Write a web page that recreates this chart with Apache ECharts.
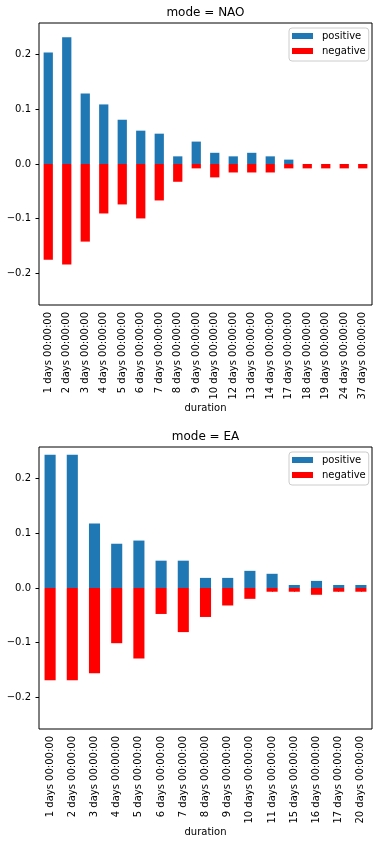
<!DOCTYPE html>
<html>
<head>
<meta charset="utf-8">
<script src="https://cdn.jsdelivr.net/npm/echarts@6/dist/echarts.min.js"></script>
<style>
html,body{margin:0;padding:0;background:#fff;}
#c{width:380px;height:845px;}
</style>
</head>
<body>
<div id="c"></div>
<script>
// ---- data ----
const naoCategories = ['1 days 00:00:00','2 days 00:00:00','3 days 00:00:00','4 days 00:00:00','5 days 00:00:00','6 days 00:00:00','7 days 00:00:00','8 days 00:00:00','9 days 00:00:00','10 days 00:00:00','12 days 00:00:00','13 days 00:00:00','14 days 00:00:00','17 days 00:00:00','18 days 00:00:00','19 days 00:00:00','24 days 00:00:00','37 days 00:00:00'];
const naoPositive = [0.204,0.232,0.129,0.109,0.081,0.061,0.0555,0.014,0.041,0.0205,0.014,0.0205,0.014,0.008,0,0,0,0];
const naoNegative = [-0.175,-0.184,-0.142,-0.0905,-0.074,-0.0996,-0.0667,-0.0325,-0.008,-0.0245,-0.0155,-0.0155,-0.0155,-0.008,-0.008,-0.008,-0.008,-0.008];

const eaCategories = ['1 days 00:00:00','2 days 00:00:00','3 days 00:00:00','4 days 00:00:00','5 days 00:00:00','6 days 00:00:00','7 days 00:00:00','8 days 00:00:00','9 days 00:00:00','10 days 00:00:00','11 days 00:00:00','15 days 00:00:00','16 days 00:00:00','17 days 00:00:00','20 days 00:00:00'];
const eaPositive = [0.244,0.244,0.118,0.081,0.0868,0.05,0.05,0.0185,0.0185,0.0314,0.026,0.0055,0.013,0.0055,0.0055];
const eaNegative = [-0.169,-0.169,-0.156,-0.101,-0.129,-0.0475,-0.0807,-0.053,-0.032,-0.0198,-0.0068,-0.0068,-0.0124,-0.0068,-0.0068];

const yTicks = [-0.2,-0.1,0,0.1,0.2];
const titles = ['mode = NAO','mode = EA'];
const seriesNames = ['positive','negative'];

// ---- chart ----
const FONT = 'DejaVu Sans';
const BLUE = '#1f77b4', RED = '#ff0000';
const chart = echarts.init(document.getElementById('c'), null, {renderer:'canvas'});

const grids = [
  {left:39, top:23, width:333, height:282},
  {left:39, top:447, width:333, height:282}
];
const cats = [naoCategories, eaCategories];
const pos = [naoPositive, eaPositive];
const neg = [naoNegative, eaNegative];

function yFmt(v){ return Number(v).toFixed(1).replace('-', '\u2212'); }

const option = {
  animation:false,
  backgroundColor:'#fff',
  textStyle:{fontFamily:FONT},
  title: grids.map((g,i)=>({
    text:titles[i], left:g.left+g.width/2, top:g.top-16, textAlign:'center', padding:0,
    textStyle:{fontFamily:FONT, fontSize:12, fontWeight:'normal', color:'#000'}
  })),
  legend: grids.map((g,i)=>({
    orient:'vertical', left:289, top:g.top+5,
    data:seriesNames, itemWidth:21, itemHeight:6, itemGap:5, icon:'rect',
    padding:[3,3,5,3], borderColor:'#cccccc', borderWidth:1, borderRadius:3,
    backgroundColor:'rgba(255,255,255,0.8)',
    textStyle:{fontFamily:FONT, fontSize:10, lineHeight:10, color:'#000', padding:[0,0,0,4]}
  })),
  grid: grids.map(g=>Object.assign({show:true, borderColor:'#000', borderWidth:1, containLabel:false}, g)),
  xAxis: grids.map((g,i)=>({
    type:'category', gridIndex:i, data:cats[i],
    name:'duration', nameLocation:'middle', nameGap:98,
    nameTextStyle:{fontFamily:FONT, fontSize:10, color:'#000'},
    axisLine:{show:false},
    axisTick:{show:true, alignWithLabel:true, length:3.5, lineStyle:{color:'#000', width:1}},
    axisLabel:{rotate:90, interval:0, margin:7, fontFamily:FONT, fontSize:10, color:'#000'},
    splitLine:{show:false}
  })),
  yAxis: grids.map((g,i)=>({
    type:'value', gridIndex:i, min:-0.258, max:0.258,
    axisLine:{show:false},
    axisTick:{show:true, length:3.5, lineStyle:{color:'#000', width:1}, customValues:yTicks},
    axisLabel:{margin:8, fontFamily:FONT, fontSize:10, color:'#000', formatter:yFmt, customValues:yTicks},
    splitLine:{show:false}
  })),
  series: []
};
grids.forEach((g,i)=>{
  option.series.push({
    name:seriesNames[0], type:'bar', xAxisIndex:i, yAxisIndex:i, data:pos[i],
    barWidth:'50%', barGap:'-100%', itemStyle:{color:BLUE}
  });
  option.series.push({
    name:seriesNames[1], type:'bar', xAxisIndex:i, yAxisIndex:i, data:neg[i],
    barWidth:'50%', barGap:'-100%', itemStyle:{color:RED}
  });
});
chart.setOption(option);
</script>
</body>
</html>
